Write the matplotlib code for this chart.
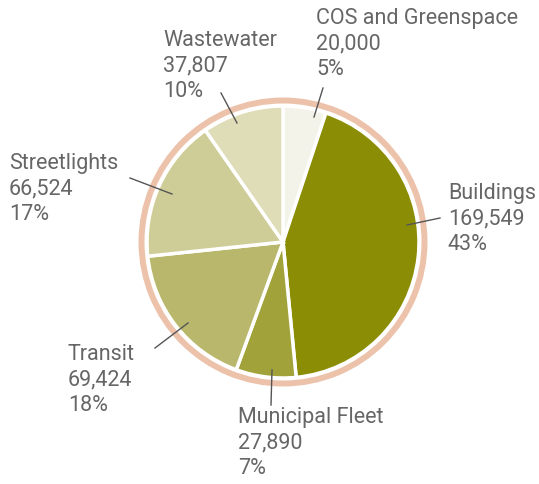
import matplotlib.pyplot as plt
from matplotlib.patches import Wedge

# data
categories = ['COS and Greenspace', 'Buildings', 'Municipal Fleet', 'Transit', 'Streetlights', 'Wastewater']
values = [20000, 169549, 27890, 69424, 66524, 37807]
percents = ['5%', '43%', '7%', '18%', '17%', '10%']
colors = ['#F4F3EA', '#8B8E05', '#A2A23B', '#B8B76B', '#CFCD97', '#DFDCB8']

# label layout in pixels (text left/top, leader start, leader end)
W, H = 539, 484
label_pos = [(316, 8), (448, 183), (238, 407), (68, 344), (9, 153), (163, 30)]
leaders = [((314, 117), (323, 88)), ((407, 225), (440, 218)), ((272, 370), (271, 405)),
           ((188, 323), (155, 348)), ((172, 194), (130, 178)), ((237, 123), (221, 93))]

CX, CY, R = 283, 242, 136

fig = plt.figure(figsize=(W / 100, H / 100), dpi=100)
ax = fig.add_axes([0, 0, 1, 1])

# outer ring
ax.add_patch(Wedge((CX, H - CY), 144.5, 0, 360, width=6, facecolor='#EDC2AA', edgecolor='none'))

ax.pie(values, colors=colors, startangle=90, counterclock=False, center=(CX, H - CY), radius=R,
       wedgeprops=dict(edgecolor='white', linewidth=2.5), frame=True)
ax.set_xlim(0, W)
ax.set_ylim(0, H)
ax.set_aspect('equal')
ax.axis('off')

for cat, val, pct, (tx, ty), (p0, p1) in zip(categories, values, percents, label_pos, leaders):
    ax.plot([p0[0], p1[0]], [H - p0[1], H - p1[1]], color='#555555', linewidth=1)
    ax.text(tx, H - ty, f'{cat}\n{val:,}\n{pct}', ha='left', va='top', fontsize=15.5,
            family='Roboto', color='#666666', linespacing=1.27)

fig.savefig('out.png', dpi=100)
